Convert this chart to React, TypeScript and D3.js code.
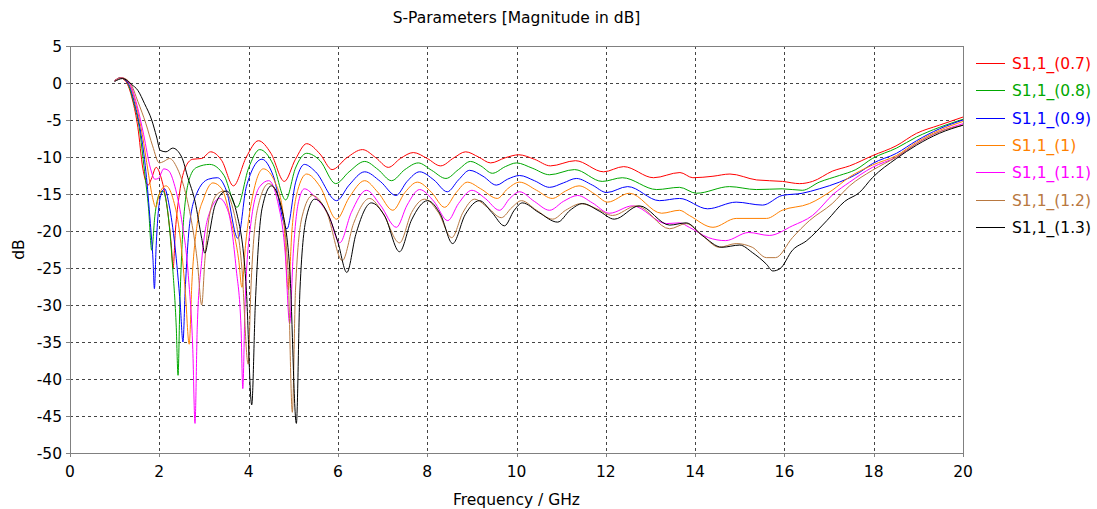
import React, { useEffect } from "react";
import * as d3 from "d3";

const FREQ_TICKS = [0, 2, 4, 6, 8, 10, 12, 14, 16, 18, 20];
const DB_TICKS = [5, 0, -5, -10, -15, -20, -25, -30, -35, -40, -45, -50];
const SERIES_NAMES = ["S1,1_(0.7)", "S1,1_(0.8)", "S1,1_(0.9)", "S1,1_(1)", "S1,1_(1.1)", "S1,1_(1.2)", "S1,1_(1.3)"];
const SERIES_COLORS = ["#ff0000", "#00a800", "#0000ff", "#ff8000", "#ff00ff", "#b87840", "#000000"];

const s07: [number, number][] = [[1.0,0.3],[1.12,0.7],[1.25,0.2],[1.4,-2.3],[1.52,-6],[1.63,-11.5],[1.75,-13.8],[1.82,-13],[1.93,-11.4],[2.05,-13],[2.18,-17],[2.27,-22],[2.31,-25],[2.36,-20],[2.45,-15],[2.6,-11.2],[2.75,-10.3],[2.95,-10.2],[3.15,-9.3],[3.4,-10.5],[3.66,-13.9],[3.95,-10],[4.22,-7.8],[4.5,-9.5],[4.8,-13.3],[5.05,-10.3],[5.3,-8.2],[5.6,-9.6],[5.87,-11.7],[6.2,-10.1],[6.55,-9.0],[6.85,-10.1],[7.13,-11.4],[7.4,-10.2],[7.69,-9.4],[8.0,-10.2],[8.3,-11.2],[8.6,-10.1],[8.86,-9.3],[9.15,-10],[9.42,-10.8],[9.75,-10.1],[10.05,-9.7],[10.4,-10.3],[10.76,-11.2],[11.32,-10.5],[11.95,-12.0],[12.4,-11.3],[13.07,-12.8],[13.66,-12.1],[13.95,-12.8],[14.4,-12.6],[14.78,-12.3],[15.38,-13.1],[15.96,-13.3],[16.34,-13.6],[16.63,-13.3],[17.08,-11.9],[17.46,-11.2],[17.98,-9.8],[18.5,-8.5],[18.96,-6.8],[19.47,-5.7],[20,-4.6]];
const s08: [number, number][] = [[1.0,0.3],[1.13,0.7],[1.27,0.2],[1.42,-2.5],[1.55,-6],[1.67,-12],[1.76,-17],[1.83,-22.6],[1.9,-18],[2.0,-15],[2.08,-14.6],[2.18,-17],[2.3,-25],[2.38,-33],[2.42,-39.5],[2.46,-30],[2.55,-18],[2.7,-12.5],[2.84,-11.4],[3.13,-11.0],[3.45,-12.5],[3.74,-16.8],[4.0,-11.5],[4.25,-9.0],[4.55,-11],[4.83,-15.8],[5.05,-11.5],[5.3,-9.5],[5.6,-10.5],[5.95,-13.6],[6.25,-12],[6.6,-10.6],[6.9,-11.7],[7.2,-13.2],[7.5,-11.7],[7.8,-10.8],[8.1,-11.8],[8.42,-12.9],[8.7,-11.7],[8.97,-10.6],[9.2,-11.2],[9.46,-12.2],[9.75,-11.3],[10.0,-10.8],[10.35,-11.5],[10.74,-12.4],[11.3,-11.7],[11.92,-13.3],[12.37,-12.8],[13.14,-14.4],[13.65,-14.1],[14.03,-14.9],[14.77,-14.0],[15.37,-14.4],[15.95,-14.3],[16.4,-14.5],[16.78,-13.4],[17.23,-12.5],[17.6,-11.7],[17.97,-10.2],[18.51,-8.8],[18.96,-7.3],[19.47,-6.0],[20,-4.9]];
const s09: [number, number][] = [[1.0,0.3],[1.14,0.7],[1.3,0],[1.45,-2.8],[1.58,-6.5],[1.7,-12],[1.8,-19],[1.86,-24],[1.89,-27.8],[1.93,-22],[2.02,-15.5],[2.12,-14.3],[2.22,-16.5],[2.35,-22],[2.47,-30],[2.53,-35],[2.58,-28],[2.68,-19],[2.84,-14.9],[3.1,-13],[3.3,-12.8],[3.5,-14.5],[3.76,-21],[3.95,-14],[4.3,-10.3],[4.55,-12.5],[4.86,-19.7],[5.05,-13.5],[5.25,-11],[5.5,-12],[5.97,-15.9],[6.25,-13.8],[6.6,-12.0],[6.95,-13.3],[7.3,-15.2],[7.55,-13.3],[7.83,-12.0],[8.15,-13.1],[8.45,-14.7],[8.7,-13.1],[8.95,-11.8],[9.25,-12.6],[9.55,-13.8],[9.8,-13],[10.07,-12.5],[10.4,-13.2],[10.74,-14.1],[11.05,-13.5],[11.34,-12.9],[11.7,-13.8],[12.02,-14.8],[12.49,-14.0],[13.2,-15.9],[13.65,-15.6],[14.28,-17.0],[14.92,-16.1],[15.51,-16.5],[15.95,-15.2],[16.4,-14.9],[16.78,-14.3],[17.23,-13.4],[17.68,-12.1],[17.97,-10.9],[18.51,-9.5],[18.96,-7.8],[19.47,-6.2],[20,-5.0]];
const s10: [number, number][] = [[1.0,0.3],[1.15,0.7],[1.32,0],[1.48,-3],[1.62,-7],[1.75,-12],[1.85,-15.5],[1.92,-16.8],[2.0,-15],[2.15,-13.9],[2.3,-15.5],[2.45,-20],[2.58,-28],[2.67,-35.3],[2.73,-27],[2.85,-19],[3.0,-15.5],[3.2,-13.5],[3.4,-14.3],[3.6,-18.5],[3.78,-24],[3.85,-27.6],[3.93,-22],[4.1,-15],[4.33,-11.6],[4.6,-13.5],[4.78,-18],[4.89,-28],[4.97,-20],[5.1,-14.5],[5.3,-12.3],[5.6,-14],[5.97,-18.4],[6.25,-15.5],[6.6,-13.2],[6.9,-14.8],[7.23,-17.2],[7.5,-14.8],[7.78,-13.4],[8.1,-14.8],[8.39,-16.8],[8.65,-14.8],[8.9,-13.4],[9.2,-14.3],[9.57,-15.6],[9.8,-14.3],[10.07,-13.4],[10.45,-14.5],[10.8,-15.6],[11.1,-14.6],[11.4,-13.9],[11.75,-15],[12.04,-16.1],[12.53,-14.9],[13.25,-17.6],[13.65,-17.2],[13.87,-17.9],[14.4,-19.5],[14.92,-18.3],[15.6,-18.3],[15.95,-17.2],[16.56,-16.3],[17.07,-14.5],[17.46,-12.7],[17.97,-11.1],[18.51,-9.8],[18.96,-8.0],[19.47,-6.4],[20,-5.2]];
const s11: [number, number][] = [[1.0,0.3],[1.15,0.7],[1.33,0],[1.5,-3],[1.65,-7],[1.8,-11.5],[1.9,-13],[1.98,-12.9],[2.1,-11.6],[2.2,-11.8],[2.35,-14],[2.5,-18.5],[2.65,-26],[2.75,-36],[2.8,-46],[2.85,-33],[2.95,-24],[3.1,-18],[3.35,-15.6],[3.55,-17.5],[3.72,-25],[3.83,-33],[3.87,-41.3],[3.92,-30],[4.05,-19],[4.25,-14],[4.45,-13.2],[4.65,-16],[4.82,-23],[4.92,-32.5],[5.0,-23],[5.12,-16],[5.25,-14.3],[5.5,-15.5],[5.8,-18],[6.04,-21.6],[6.3,-17.5],[6.64,-14.5],[6.95,-16.5],[7.31,-19.5],[7.55,-16.5],[7.83,-14.4],[8.15,-16],[8.46,-18.6],[8.7,-16.3],[9.0,-14.5],[9.3,-15.6],[9.62,-17.2],[9.85,-15.6],[10.07,-14.7],[10.4,-16],[10.74,-17.2],[11.05,-16],[11.37,-15.2],[11.7,-16.2],[12.08,-17.6],[12.6,-16.6],[13.36,-19.0],[13.65,-18.9],[13.87,-19.5],[14.3,-20.9],[14.68,-21.3],[15.2,-20.2],[15.66,-20.6],[16.18,-19.3],[16.63,-17.9],[17.1,-15.0],[17.46,-13.4],[17.97,-11.4],[18.51,-10.0],[18.96,-8.2],[19.47,-6.6],[20,-5.5]];
const s12: [number, number][] = [[1.0,0.3],[1.16,0.7],[1.35,0],[1.52,-2.5],[1.7,-5.5],[1.85,-8.5],[2.0,-10.8],[2.1,-10.6],[2.23,-10.2],[2.4,-11.5],[2.55,-14],[2.7,-18],[2.85,-24],[2.95,-30],[3.02,-24],[3.12,-18],[3.3,-15],[3.45,-14.6],[3.65,-17],[3.85,-25],[3.99,-38],[4.05,-28],[4.2,-17],[4.45,-13.6],[4.7,-16],[4.88,-25],[4.98,-44.5],[5.05,-28],[5.2,-18],[5.43,-15.2],[5.75,-17.5],[6.1,-24],[6.35,-19],[6.71,-15.6],[7.0,-17.5],[7.38,-21.6],[7.65,-17.5],[7.94,-15.7],[8.25,-17.5],[8.55,-20.9],[8.8,-17.5],[9.06,-15.7],[9.35,-16.8],[9.66,-18.2],[9.9,-16.8],[10.11,-15.9],[10.45,-17.2],[10.81,-18.4],[11.1,-17.2],[11.45,-16.3],[11.8,-17],[12.15,-17.9],[12.69,-16.6],[13.43,-19.7],[13.8,-19.0],[14.16,-20.6],[14.54,-22.2],[14.92,-21.7],[15.28,-22.2],[15.6,-23.6],[15.8,-23.6],[16.18,-20.9],[16.56,-18.6],[17.07,-16.3],[17.46,-13.9],[17.97,-11.8],[18.51,-10.0],[18.96,-8.2],[19.47,-6.6],[20,-5.7]];
const s13: [number, number][] = [[1.0,0.2],[1.18,0.6],[1.38,-0.2],[1.52,-1],[1.67,-2.8],[1.83,-5],[1.94,-7.3],[2.02,-9.1],[2.15,-9.3],[2.3,-8.8],[2.5,-10],[2.64,-12.8],[2.8,-16],[2.95,-21],[3.02,-23],[3.1,-21],[3.25,-16.5],[3.5,-14.6],[3.75,-18],[3.95,-28],[4.07,-43.5],[4.15,-30],[4.3,-17],[4.51,-13.9],[4.72,-16.5],[4.92,-25],[5.07,-46],[5.15,-28],[5.3,-18],[5.48,-15.7],[5.8,-18],[6.0,-21.5],[6.2,-25.6],[6.4,-20.5],[6.75,-16.2],[7.05,-18],[7.38,-22.8],[7.65,-18.5],[8.01,-15.9],[8.3,-17.8],[8.57,-21.7],[8.85,-17.8],[9.17,-15.9],[9.45,-17.5],[9.73,-19.3],[9.95,-17.2],[10.13,-16.2],[10.5,-17.5],[10.92,-18.8],[11.2,-17.2],[11.48,-16.3],[11.85,-17.3],[12.19,-18.4],[12.75,-16.6],[13.43,-19.2],[13.8,-18.9],[14.16,-20.6],[14.6,-22.2],[15.0,-21.9],[15.28,-22.9],[15.6,-24.5],[15.74,-25.4],[15.9,-25.1],[16.18,-22.6],[16.5,-21.3],[16.95,-18.6],[17.35,-16.0],[17.68,-14.8],[17.97,-12.8],[18.51,-10.2],[18.96,-8.4],[19.47,-6.8],[20,-5.7]];

const SERIES = [s07, s08, s09, s10, s11, s12, s13];

const W = 1097, H = 509;
const M = { left: 70, right: 963, top: 46, bottom: 453 };
const FONT = "'DejaVu Sans', Verdana, sans-serif";

export default function App() {
  useEffect(() => {
    document.body.style.margin = "0";
  }, []);
  const x = d3.scaleLinear().domain([0, 20]).range([M.left, M.right]);
  const y = d3.scaleLinear().domain([-50, 5]).range([M.bottom, M.top]);
  const line = d3.line<[number, number]>().x(d => x(d[0])).y(d => y(d[1])).curve(d3.curveMonotoneX);
  const px = (v: number) => Math.round(v) + 0.5;

  return (
    <svg width={W} height={H} style={{ display: "block", background: "#fff" }} fontFamily={FONT}>
      <text x={(M.left + M.right) / 2} y={23} textAnchor="middle" fontSize={15.5} fill="#000">S-Parameters [Magnitude in dB]</text>
      {FREQ_TICKS.slice(1, -1).map(t => (
        <line key={"gx" + t} x1={px(x(t))} x2={px(x(t))} y1={M.top} y2={M.bottom} stroke="#444" strokeDasharray="3 3" strokeWidth={1} />
      ))}
      {DB_TICKS.slice(1, -1).map(t => (
        <line key={"gy" + t} x1={M.left} x2={M.right} y1={px(y(t))} y2={px(y(t))} stroke="#444" strokeDasharray="3 3" strokeWidth={1} />
      ))}
      <defs>
        <clipPath id="plotclip">
          <rect x={M.left} y={M.top} width={M.right - M.left} height={M.bottom - M.top} />
        </clipPath>
      </defs>
      <g clipPath="url(#plotclip)">
        {SERIES.map((s, i) => (
          <path key={i} d={line(s) || ""} fill="none" stroke={SERIES_COLORS[i]} strokeWidth={1} />
        ))}
      </g>
      <rect x={px(M.left)} y={px(M.top)} width={Math.round(M.right - M.left)} height={Math.round(M.bottom - M.top)} fill="none" stroke="#808080" strokeWidth={1} />
      {DB_TICKS.map(t => (
        <g key={"ty" + t}>
          <line x1={M.left - 4} x2={M.left} y1={px(y(t))} y2={px(y(t))} stroke="#808080" />
          <text x={M.left - 8} y={y(t) + 5.5} textAnchor="end" fontSize={15.5} fill="#000">{t}</text>
        </g>
      ))}
      {FREQ_TICKS.map(t => (
        <g key={"tx" + t}>
          <line x1={px(x(t))} x2={px(x(t))} y1={M.bottom} y2={M.bottom + 4} stroke="#808080" />
          <text x={x(t)} y={M.bottom + 24} textAnchor="middle" fontSize={15.5} fill="#000">{t}</text>
        </g>
      ))}
      <text x={(M.left + M.right) / 2} y={505} textAnchor="middle" fontSize={15.5} fill="#000">Frequency / GHz</text>
      <text transform={`translate(24,${(M.top + M.bottom) / 2}) rotate(-90)`} textAnchor="middle" fontSize={15.5} fill="#000">dB</text>
      {SERIES_NAMES.map((n, i) => {
        const ly = 63 + i * 27.3;
        return (
          <g key={n}>
            <line x1={976} x2={1005} y1={px(ly)} y2={px(ly)} stroke={SERIES_COLORS[i]} strokeWidth={1} />
            <text x={1012} y={ly + 6} fontSize={15.5} fill={SERIES_COLORS[i]}>{n}</text>
          </g>
        );
      })}
    </svg>
  );
}
